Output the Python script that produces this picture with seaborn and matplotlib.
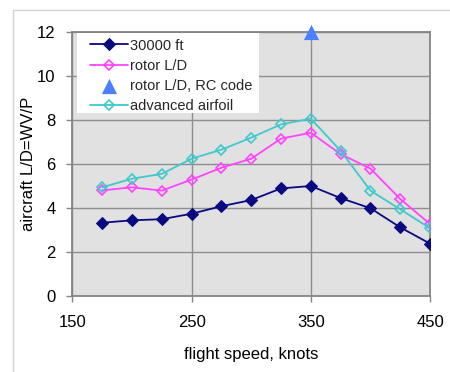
import matplotlib
matplotlib.use("Agg")
import matplotlib.pyplot as plt
from matplotlib.lines import Line2D
from matplotlib.patches import Rectangle
import seaborn as sns
import pandas as pd

# flight speed (knots)
speed = [175, 200, 225, 250, 275, 300, 325, 350, 375, 400, 425, 450]
# aircraft L/D for each configuration
ld_30000ft = [3.33, 3.44, 3.49, 3.74, 4.08, 4.36, 4.89, 5.00, 4.45, 3.99, 3.12, 2.38]
ld_rotor = [4.80, 4.94, 4.79, 5.29, 5.83, 6.24, 7.15, 7.42, 6.45, 5.79, 4.41, 3.27]
ld_advanced = [4.94, 5.33, 5.55, 6.24, 6.65, 7.20, 7.80, 8.06, 6.60, 4.79, 3.94, 3.08]
# single RC code point
rc_speed = [350]
rc_ld = [12.0]

x_ticks = [150, 250, 350, 450]
y_ticks = [0, 2, 4, 6, 8, 10, 12]

sns.set_theme(style="whitegrid")
plt.rcParams["font.family"] = ["Liberation Sans", "DejaVu Sans"]

fig = plt.figure(figsize=(4.5, 3.72), dpi=100)
ax = fig.add_axes([0.1607, 0.2043, 0.795, 0.7097])
ax.set_facecolor("#e1e1e1")

df = pd.DataFrame({"speed": speed, "a": ld_30000ft, "r": ld_rotor, "v": ld_advanced})

sns.lineplot(data=df, x="speed", y="a", ax=ax, color="#0a0a80", marker="D",
             markersize=6.5, markeredgecolor="#0a0a80", markerfacecolor="#0a0a80",
             linewidth=1.3, label="30000 ft", zorder=4)
sns.lineplot(data=df, x="speed", y="r", ax=ax, color="#ff44ff", marker="D",
             markersize=5.5, markeredgecolor="#ff44ff", markerfacecolor="none",
             markeredgewidth=1.2, linewidth=1.3, label="rotor L/D", zorder=3)
sns.scatterplot(x=rc_speed, y=rc_ld, ax=ax, color="#4a7fff", marker="^", s=120,
                edgecolor="#4a7fff", linewidth=0, label="rotor L/D, RC code",
                clip_on=False, zorder=6)
sns.lineplot(data=df, x="speed", y="v", ax=ax, color="#40c8cc", marker="D",
             markersize=5.5, markeredgecolor="#40c8cc", markerfacecolor="none",
             markeredgewidth=1.2, linewidth=1.3, label="advanced airfoil", zorder=3)

ax.set_xlim(150, 450)
ax.set_ylim(0, 12)
ax.set_xticks(x_ticks)
ax.set_yticks(y_ticks)
ax.grid(True, color="#8e8e8e", linewidth=1.0)
ax.set_axisbelow(True)
for s in ax.spines.values():
    s.set_color("#858585")
    s.set_linewidth(1.3)
ax.tick_params(axis="both", direction="out", length=4, width=1, color="#858585",
               labelsize=12, labelcolor="black", left=True, bottom=True)
ax.tick_params(axis="y", pad=8)
ax.tick_params(axis="x", pad=10)

ax.set_xlabel("flight speed, knots", fontsize=12, labelpad=12, color="black")
ax.set_ylabel("aircraft L/D=WV/P", fontsize=12, labelpad=1, color="black")

# white legend panel
ax.add_patch(Rectangle((0.013, 0.693), 0.509, 0.304, transform=ax.transAxes,
                       facecolor="white", edgecolor="none", zorder=2.5))

handles, labels = ax.get_legend_handles_labels()
leg = ax.legend(handles, labels, loc="upper left", bbox_to_anchor=(0.049, 0.975),
                borderaxespad=0, borderpad=0, fontsize=10.5, frameon=False,
                handlelength=2.6, handletextpad=0.15, labelspacing=0.42)
leg.set_zorder(5)

# outer chart border
fig.add_artist(Line2D([13 / 450, 1.0], [1 - 10 / 372, 1 - 10 / 372],
                      transform=fig.transFigure, color="#d4d4d4", linewidth=1))
fig.add_artist(Line2D([13 / 450, 13 / 450], [0.0, 1 - 10 / 372],
                      transform=fig.transFigure, color="#d4d4d4", linewidth=1))

fig.savefig("out.png", dpi=100)
